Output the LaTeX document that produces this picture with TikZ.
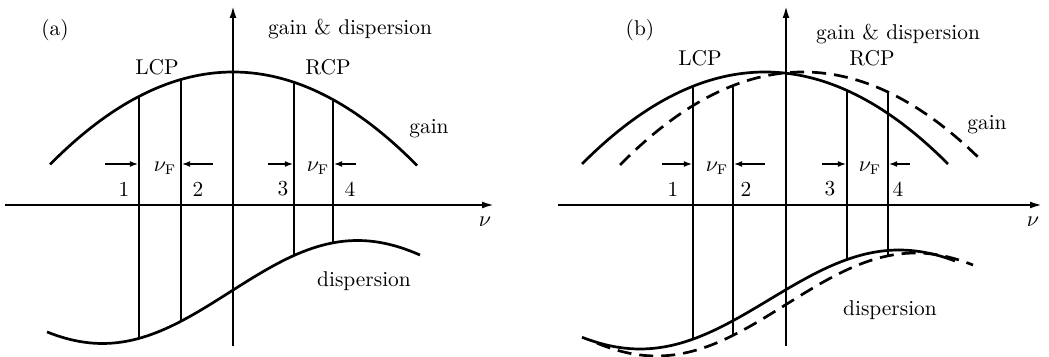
\documentclass[tikz,border=0pt]{standalone}
\usepackage{tikz}
\usetikzlibrary{arrows.meta}
\begin{document}
\begin{tikzpicture}[
            x=0.5pt, y=-0.5pt,
            font=\fontsize{10.7}{12}\selectfont,
            axis/.style={line width=1.2pt, -{Latex[length=6.5pt, width=3.4pt]}},
            curve/.style={line width=1.35pt},
            shifted/.style={curve, dash pattern=on 7pt off 4pt},
            level/.style={line width=1.1pt},
            gap/.style={line width=0.55pt, -{Latex[length=4pt, width=3pt]}, shorten >=0.6pt},
            declare function={
                gainA(\x)=72+93*((\x-233)/183.5)*((\x-233)/183.5);
                dispA(\x)=292-51.5*sin((\x-230)/255*180);
                gainB(\x)=72+93*((\x-765)/184)*((\x-765)/184);
                gainBs(\x)=72+93*((\x-803)/183)*((\x-803)/183);
                dispB(\x)=299.5-49.5*sin((\x-769.5)/259*180);
                dispBs(\x)=304.5-51.5*sin((\x-786)/259*180);
            }
        ]
            \useasboundingbox (0,0) rectangle (1049,357);

            % (a) 軸
            \coordinate (xlA) at (5,205);
            \coordinate (xrA) at (495,205);
            \coordinate (ybA) at (233,346);
            \coordinate (ytA) at (233,5);
            \draw[axis] (xlA) -- (xrA);
            \draw[axis] (ybA) -- (ytA);

            % (a) 曲線
            \draw[curve] plot[domain=50:417, samples=80] (\x,{gainA(\x)});
            \draw[curve] plot[domain=47:420, samples=80] (\x,{dispA(\x)});

            % (a) 縦線
            \foreach \n/\xx in {1/139, 2/181, 3/294, 4/333} {
                \coordinate (a\n t) at (\xx,{gainA(\xx)});
                \coordinate (a\n b) at (\xx,{dispA(\xx)});
                \draw[level] (a\n t) -- (a\n b);
            }

            % (a) 矢印
            \coordinate (p1A) at (105,164);
            \coordinate (p2A) at (213,164);
            \coordinate (p3A) at (268,164);
            \coordinate (p4A) at (356,164);
            \draw[gap] (p1A) -- (p1A -| a1t);
            \draw[gap] (p2A) -- (p2A -| a2t);
            \draw[gap] (p3A) -- (p3A -| a3t);
            \draw[gap] (p4A) -- (p4A -| a4t);

            % (a) ラベル
            \node (tagA) at (55,30) {(a)};
            \node (titleA) at (350,29) {gain \& dispersion};
            \node (lcpA) at (157,67) {LCP};
            \node (rcpA) at (328,67) {RCP};
            \node (gainlblA) at (429,129) {gain};
            \node (displblA) at (364,281) {dispersion};
            \node (nuA) at (485,222) {$\nu$};
            \node (nuFlA) at (165,168) {$\nu_{\mathrm{F}}$};
            \node (nuFrA) at (318,168) {$\nu_{\mathrm{F}}$};
            \node (n1A) at (124,189) {1};
            \node (n2A) at (198,189) {2};
            \node (n3A) at (283,189) {3};
            \node (n4A) at (350,189) {4};

            % (b) 軸
            \coordinate (xlB) at (558,205);
            \coordinate (xrB) at (1043,205);
            \coordinate (ybB) at (786,346);
            \coordinate (ytB) at (786,5);
            \draw[axis] (xlB) -- (xrB);
            \draw[axis] (ybB) -- (ytB);

            % (b) 曲線
            \draw[curve] plot[domain=582:948, samples=80] (\x,{gainB(\x)});
            \draw[shifted] plot[domain=620:982, samples=80] (\x,{gainBs(\x)});
            \draw[curve] plot[domain=582:955, samples=80] (\x,{dispB(\x)});
            \draw[shifted] plot[domain=597:973, samples=80] (\x,{dispBs(\x)});

            % (b) 縦線
            \coordinate (b1t) at (693,{gainB(693)});
            \coordinate (b1b) at (693,{dispB(693)});
            \coordinate (b2t) at (733,{gainBs(733)});
            \coordinate (b2b) at (733,{dispBs(733)});
            \coordinate (b3t) at (847,{gainB(847)});
            \coordinate (b3b) at (847,{dispB(847)});
            \coordinate (b4t) at (888,{gainBs(888)});
            \coordinate (b4b) at (888,{dispBs(888)});
            \foreach \n in {1,2,3,4}
                \draw[level] (b\n t) -- (b\n b);

            % (b) 矢印
            \coordinate (p1B) at (662,164);
            \coordinate (p2B) at (765,164);
            \coordinate (p3B) at (822,164);
            \coordinate (p4B) at (910,164);
            \draw[gap] (p1B) -- (p1B -| b1t);
            \draw[gap] (p2B) -- (p2B -| b2t);
            \draw[gap] (p3B) -- (p3B -| b3t);
            \draw[gap] (p4B) -- (p4B -| b4t);

            % (b) ラベル
            \node (tagB) at (640,30) {(b)};
            \node (titleB) at (898,34) {gain \& dispersion};
            \node (lcpB) at (700,58) {LCP};
            \node (rcpB) at (872,58) {RCP};
            \node (gainlblB) at (987,125) {gain};
            \node (displblB) at (890,310) {dispersion};
            \node (nuB) at (1033,222) {$\nu$};
            \node (nuFlB) at (717,168) {$\nu_{\mathrm{F}}$};
            \node (nuFrB) at (870,168) {$\nu_{\mathrm{F}}$};
            \node (n1B) at (673,189) {1};
            \node (n2B) at (746,189) {2};
            \node (n3B) at (830,189) {3};
            \node (n4B) at (898,189) {4};
          \end{tikzpicture}
\end{document}
